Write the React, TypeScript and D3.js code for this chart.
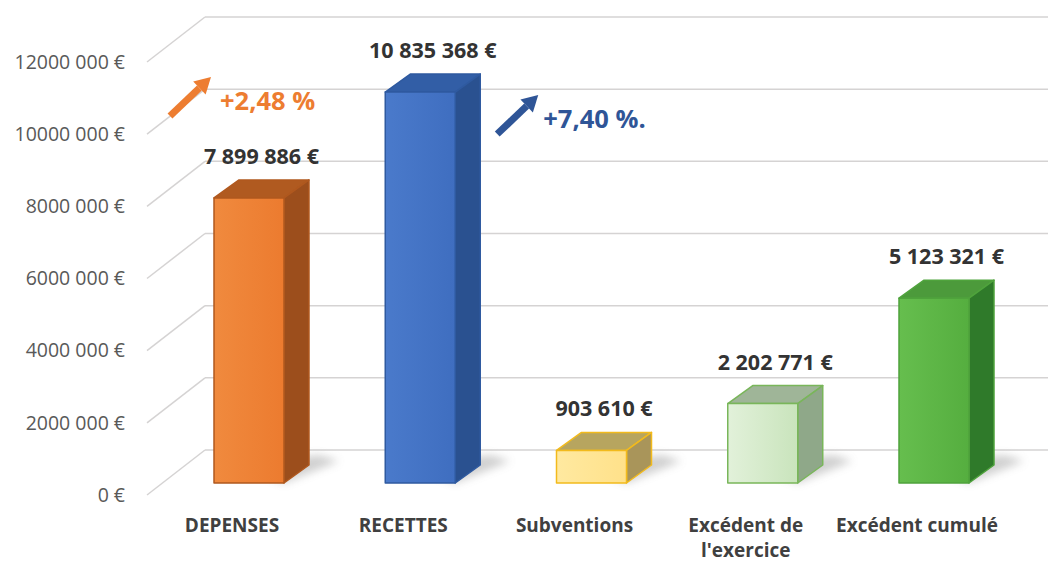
import React from "react";
import * as d3 from "d3";

const categories: string[][] = [
  ["DEPENSES"],
  ["RECETTES"],
  ["Subventions"],
  ["Excédent de", "l'exercice"],
  ["Excédent cumulé"],
];
const values: number[] = [7899886, 10835368, 903610, 2202771, 5123321];
const valueLabels: string[] = ["7 899 886 €", "10 835 368 €", "903 610 €", "2 202 771 €", "5 123 321 €"];
const ticks: number[] = [0, 2000000, 4000000, 6000000, 8000000, 10000000, 12000000];
const tickLabels: string[] = ["0 €", "2000 000 €", "4000 000 €", "6000 000 €", "8000 000 €", "10000 000 €", "12000 000 €"];
const annotations = [
  { text: "+2,48 %", color: "#ED7D31", bar: 0 },
  { text: "+7,40 %.", color: "#2F5597", bar: 1 },
];

const palettes = [
  { front: ["#F08A3E", "#EC7B2F"], side: "#9C4E1C", top: "#B05A20", stroke: "#B0581E" },
  { front: ["#4A7ACB", "#3F6EC0"], side: "#2A5190", top: "#325EA6", stroke: "#2F5AA0" },
  { front: ["#FFE9A0", "#FFE18A"], side: "#A9955A", top: "#B7A55F", stroke: "#F2BA1C" },
  { front: ["#E2F1DA", "#C9E4BC"], side: "#8FA889", top: "#9FB598", stroke: "#79B65A" },
  { front: ["#66BE4E", "#55AE3F"], side: "#2F7A2A", top: "#4C9A3B", stroke: "#4FA33C" },
];

const FONT = "'Open Sans', 'DejaVu Sans', sans-serif";

export default function App() {
  const W = 1048, H = 563;
  const yBack = d3.scaleLinear().domain([0, 12000000]).range([450, 17]);
  const yFront = d3.scaleLinear().domain([0, 12000000]).range([495, 62]);
  const yBar = d3.scaleLinear().domain([0, 12000000]).range([483, 50]);
  const x = d3.scalePoint<number>().domain(values.map((_, i) => i)).range([249, 934]);
  const backX0 = 205, frontX0 = 147;
  const bw = 70, dx = 25, dy = -18;

  return (
    <svg width={W} height={H} style={{ position: "absolute", left: 0, top: 0, background: "#fff" }} fontFamily={FONT}>
      <defs>
        {palettes.map((p, i) => (
          <linearGradient key={i} id={`fg${i}`} x1="0" y1="0" x2="1" y2="0">
            <stop offset="0" stopColor={p.front[0]} />
            <stop offset="1" stopColor={p.front[1]} />
          </linearGradient>
        ))}
        <filter id="blur" x="-50%" y="-50%" width="200%" height="200%">
          <feGaussianBlur stdDeviation="4" />
        </filter>
      </defs>
      {/* gridlines */}
      {ticks.map((t, i) => (
        <g key={i}>
          <line x1={frontX0} y1={yFront(t)} x2={backX0} y2={yBack(t)} stroke="#D5D3D3" strokeWidth={1.5} />
          <line x1={backX0} y1={yBack(t)} x2={W} y2={yBack(t)} stroke="#D5D3D3" strokeWidth={1.5} />
          <text x={125} y={yFront(t)} dy="0.35em" textAnchor="end" fontSize={19.5} fill="#595959">
            {tickLabels[i]}
          </text>
        </g>
      ))}
      {/* shadows */}
      {values.map((v, i) => {
        const cx = x(i)!;
        const x0 = cx - bw / 2, x1 = cx + bw / 2;
        const yb = yBar(0);
        return (
          <polygon key={"s" + i}
            points={`${x1},${yb} ${x1 + dx + 30},${yb + dy - 4} ${x1 + dx + 10},${yb + dy - 10} ${x0 + dx},${yb + dy}`}
            fill="#8a8a8a" opacity={0.4} filter="url(#blur)" />
        );
      })}
      {/* bars */}
      {values.map((v, i) => {
        const p = palettes[i];
        const cx = x(i)!;
        const x0 = cx - bw / 2, x1 = cx + bw / 2;
        const yt = yBar(v), yb = yBar(0);
        return (
          <g key={"b" + i} strokeLinejoin="round">
            <polygon points={`${x0},${yt} ${x0 + dx},${yt + dy} ${x1 + dx},${yt + dy} ${x1},${yt}`} fill={p.top} stroke={p.stroke} strokeWidth={1.5} />
            <polygon points={`${x1},${yt} ${x1 + dx},${yt + dy} ${x1 + dx},${yb + dy} ${x1},${yb}`} fill={p.side} stroke={p.stroke} strokeWidth={1.5} />
            <rect x={x0} y={yt} width={bw} height={yb - yt} fill={`url(#fg${i})`} stroke={p.stroke} strokeWidth={1.5} />
            <text x={cx + dx / 2} y={yt + dy - 16} textAnchor="middle" fontSize={21.5} fontWeight={700} fill="#333333">
              {valueLabels[i]}
            </text>
            <text x={cx - 17} y={532} textAnchor="middle" fontSize={19} fontWeight={700} fill="#404040">
              {categories[i].map((l, j) => (
                <tspan key={j} x={cx - 17} dy={j === 0 ? 0 : 25}>{l}</tspan>
              ))}
            </text>
          </g>
        );
      })}
      {/* annotations */}
      {annotations.map((a, k) => {
        const cx = x(a.bar)!;
        const yt = yBar(values[a.bar]);
        const tail: [number, number] = k === 0 ? [cx - 79, yt - 82] : [cx + 77, yt + 42];
        const tip: [number, number] = [tail[0] + 41, tail[1] - 39];
        const ang = Math.atan2(tip[1] - tail[1], tip[0] - tail[0]);
        const hl = 16, hw = 9;
        const bx = tip[0] - hl * Math.cos(ang), by = tip[1] - hl * Math.sin(ang);
        const px = -Math.sin(ang), py = Math.cos(ang);
        return (
          <g key={"a" + k}>
            <line x1={tail[0]} y1={tail[1]} x2={bx} y2={by} stroke={a.color} strokeWidth={7} />
            <polygon points={`${tip[0]},${tip[1]} ${bx + px * hw},${by + py * hw} ${bx - px * hw},${by - py * hw}`} fill={a.color} />
            <text x={tail[0] + (k === 0 ? 50 : 46)} y={tail[1] - 6} fontSize={25.5} fontWeight={700} fill={a.color}>{a.text}</text>
          </g>
        );
      })}
    </svg>
  );
}
